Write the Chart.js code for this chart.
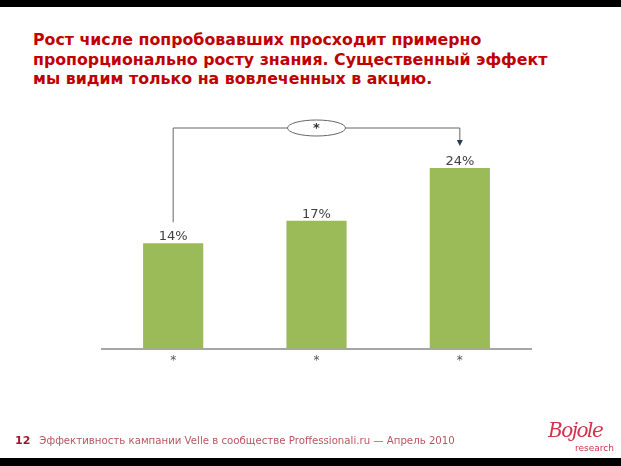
<!DOCTYPE html>
<html>
<head>
<meta charset="utf-8">
<script src="https://cdn.jsdelivr.net/npm/chart.js@4.4.0/dist/chart.umd.min.js"></script>
<style>
  html, body { margin: 0; padding: 0; background: #fff; }
  #wrap { position: relative; width: 621px; height: 466px; overflow: hidden; }
  #chart { position: absolute; left: 0; top: 0; }
  .band { position: absolute; left: 0; width: 621px; background: #000; }
  #title {
    position: absolute; left: 33px; top: 30px; margin: 0;
    font: bold 15.8px "DejaVu Sans", sans-serif; line-height: 19.5px;
    color: #c00000; white-space: nowrap;
  }
  #foot { position: absolute; left: 15px; top: 434px; font: 10.2px "DejaVu Sans", sans-serif; color: #b9555f; white-space: nowrap; }
  #foot b { color: #9b1b2b; font-size: 11px; margin-right: 9px; }
  #logo { position: absolute; left: 548px; top: 418px; color: #d2334a; }
  #logo .b { font: italic 20px "DejaVu Serif", serif; letter-spacing: -1.5px; }
  #logo .r { position: absolute; left: 27px; top: 25px; font: 9px "DejaVu Sans", sans-serif; }
</style>
</head>
<body>
<div id="wrap">
  <div class="band" style="top:0;height:7px"></div>
  <div class="band" style="top:458px;height:8px"></div>
  <div id="title">Рост числе попробовавших просходит примерно<br>пропорционально росту знания. Существенный эффект<br>мы видим только на вовлеченных в акцию.</div>
  <canvas id="chart" width="621" height="466"></canvas>
  <div id="foot"><b>12</b>Эффективность кампании Velle в сообществе Proffessionali.ru — Апрель 2010</div>
  <div id="logo"><span class="b">Bojole</span><span class="r">research</span></div>
</div>
<script>
const categories = ["*", "*", "*"];
const values = [14, 17, 24];
const valueLabels = ["14%", "17%", "24%"];
const bracketMark = "*";

const labelPlugin = {
  id: "labels",
  afterDatasetsDraw(chart) {
    const ctx = chart.ctx;
    const meta = chart.getDatasetMeta(0);
    ctx.save();
    ctx.font = "13px 'DejaVu Sans', sans-serif";
    ctx.fillStyle = "#404040";
    ctx.textAlign = "center";
    ctx.textBaseline = "alphabetic";
    meta.data.forEach((bar, i) => {
      ctx.fillText(valueLabels[i], bar.x, bar.y - 3);
    });

    // bracket from first bar to last bar
    const a = meta.data[0], b = meta.data[meta.data.length - 1];
    const top = chart.chartArea.top + 5;
    const midX = (a.x + b.x) / 2;
    ctx.strokeStyle = "#666";
    ctx.lineWidth = 1;
    ctx.beginPath();
    ctx.moveTo(a.x, a.y - 21);
    ctx.lineTo(a.x, top);
    ctx.lineTo(midX - 29, top);
    ctx.moveTo(midX + 29, top);
    ctx.lineTo(b.x, top);
    ctx.lineTo(b.x, b.y - 26);
    ctx.stroke();
    ctx.fillStyle = "#2a3a5a";
    ctx.beginPath();
    ctx.moveTo(b.x - 3, b.y - 28);
    ctx.lineTo(b.x + 3, b.y - 28);
    ctx.lineTo(b.x, b.y - 22);
    ctx.closePath();
    ctx.fill();
    ctx.beginPath();
    ctx.ellipse(midX, top, 29, 8, 0, 0, Math.PI * 2);
    ctx.stroke();
    ctx.fillStyle = "#333";
    ctx.font = "bold 13px 'DejaVu Sans', sans-serif";
    ctx.textBaseline = "middle";
    ctx.fillText(bracketMark, midX, top + 1);
    ctx.restore();
  }
};

new Chart(document.getElementById("chart"), {
  type: "bar",
  data: {
    labels: categories,
    datasets: [{
      data: values,
      backgroundColor: "#9bbb59",
      categoryPercentage: 1,
      barPercentage: 0.42
    }]
  },
  options: {
    responsive: false,
    animation: false,
    layout: { padding: { left: 101.5, right: 89.5, top: 123, bottom: 101 } },
    plugins: { legend: { display: false }, tooltip: { enabled: false } },
    scales: {
      x: {
        grid: { display: false },
        border: { color: "#a6a6a6", width: 2 },
        ticks: { color: "#555", font: { size: 12, family: "DejaVu Sans" }, padding: -3 }
      },
      y: { display: false, min: 0, max: 30 }
    }
  },
  plugins: [labelPlugin]
});
</script>
</body>
</html>
